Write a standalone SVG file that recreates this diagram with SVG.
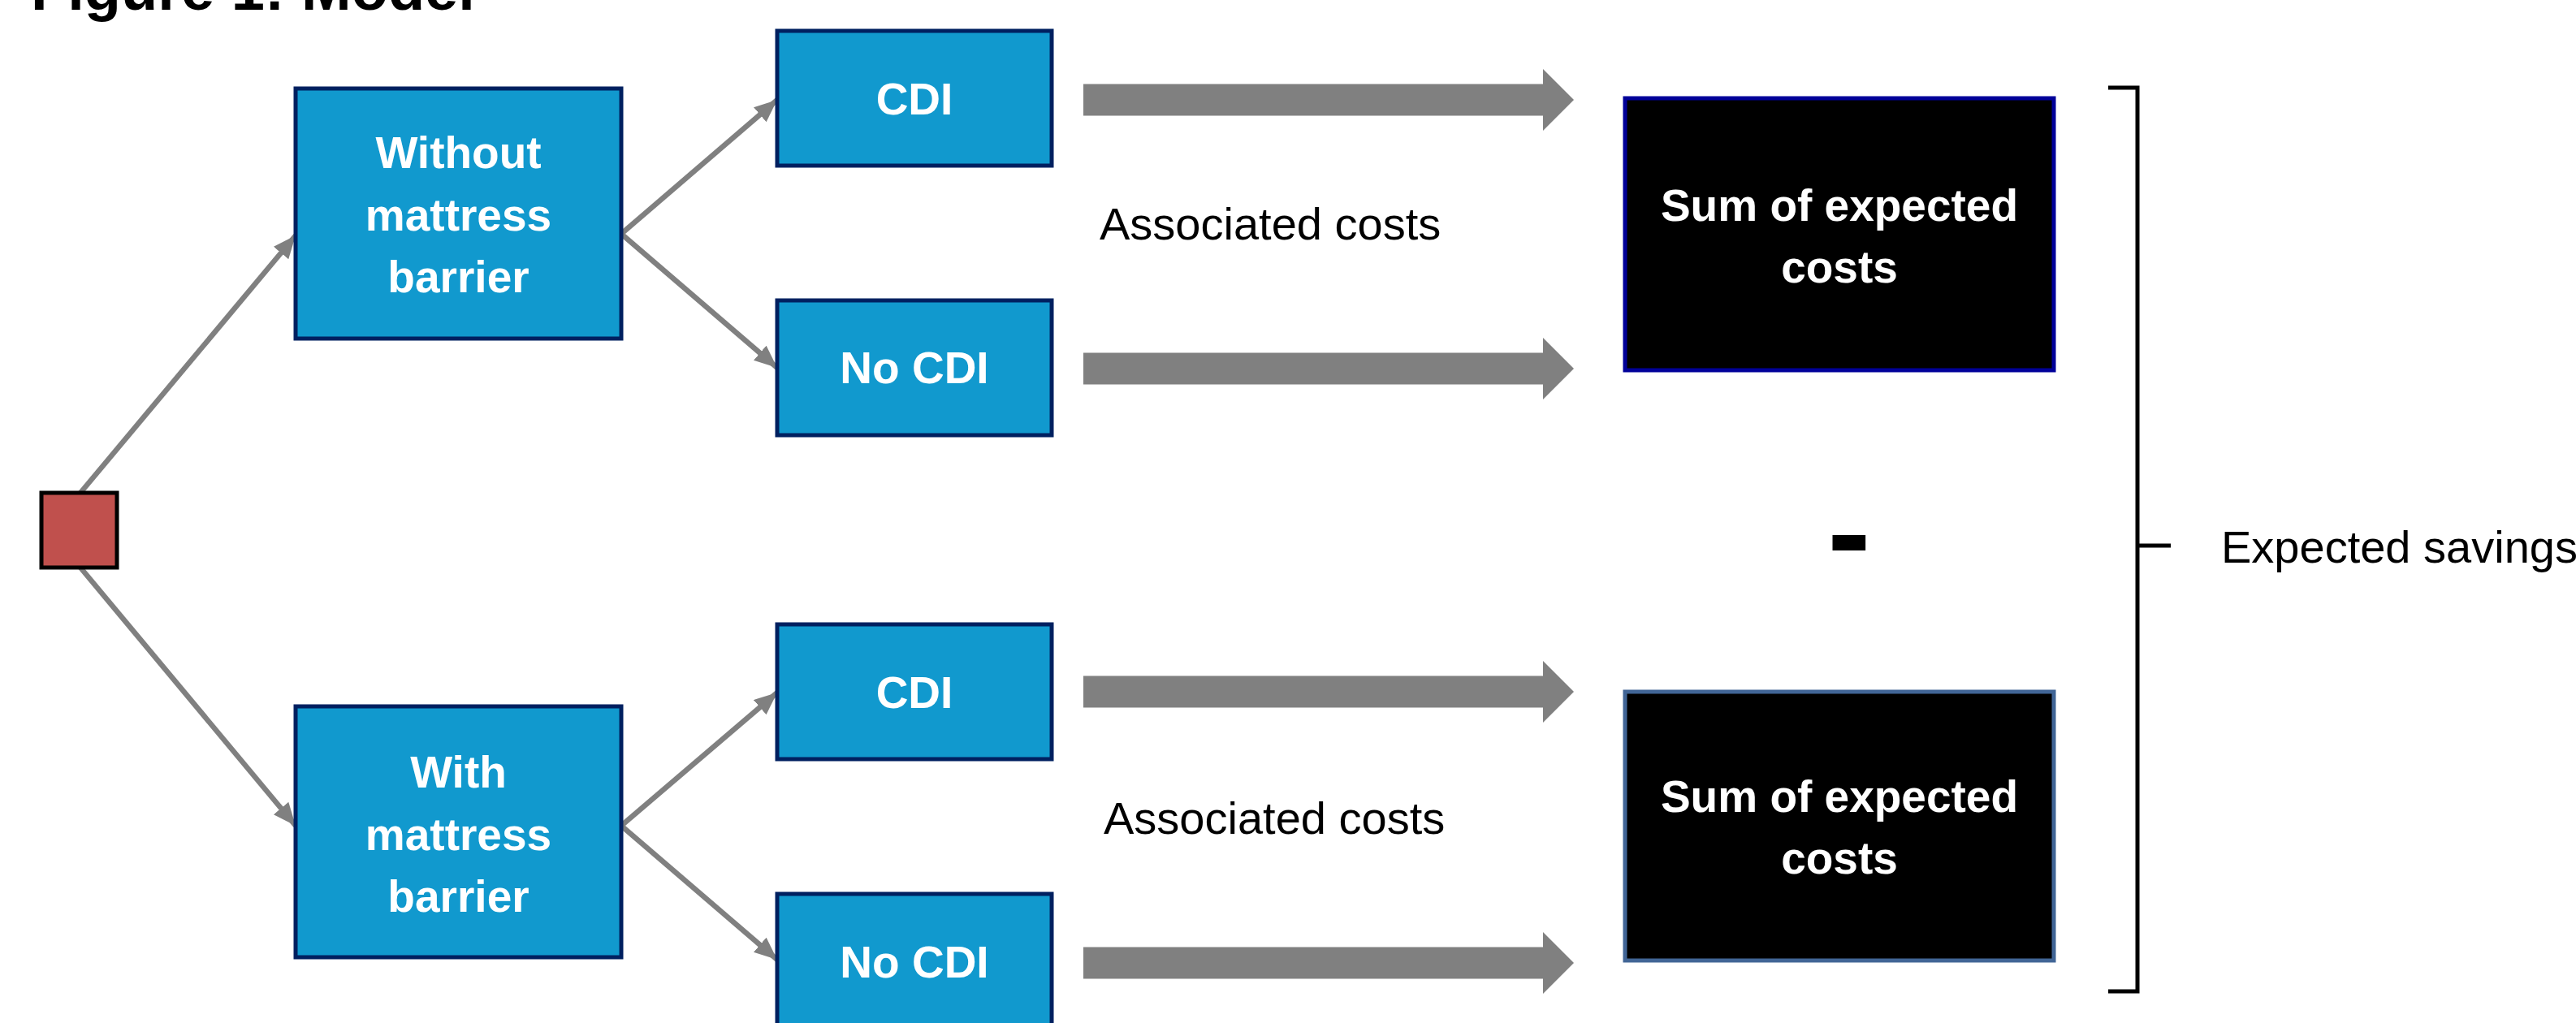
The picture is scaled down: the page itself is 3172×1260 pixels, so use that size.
<svg xmlns="http://www.w3.org/2000/svg" width="3172" height="1260" viewBox="0 0 3172 1260">
<style>
.blue{fill:#1199CE;stroke:#002060;stroke-width:5}
.blk1{fill:#000;stroke:#000099;stroke-width:5}
.blk2{fill:#000;stroke:#416596;stroke-width:5}
.wt{font-family:"Liberation Sans",Arial,sans-serif;font-weight:bold;font-size:55px;fill:#fff;text-anchor:middle}
.lbl{font-family:"Liberation Sans",Arial,sans-serif;font-size:56px;fill:#000}
.conn{stroke:#808080;stroke-width:6.5;fill:none;marker-end:url(#ah)}
.blockarrow{fill:#808080}
</style>
<defs>
<marker id="ah" markerUnits="userSpaceOnUse" markerWidth="32" markerHeight="28" refX="28" refY="12" orient="auto">
<path d="M0,0 L28,12 L0,24 Z" fill="#808080"/>
</marker>
</defs>
<rect width="3172" height="1260" fill="#fff"/>
<text x="38" y="12" font-family="Liberation Sans,Arial,sans-serif" font-weight="bold" font-size="74" fill="#000">Figure 1: Model</text>

<g id="connectors">
<path class="conn" d="M99,607 L364,290"/>
<path class="conn" d="M99,699 L364,1017"/>
<path class="conn" d="M765,288 L957,123"/>
<path class="conn" d="M765,288 L957,453"/>
<path class="conn" d="M765,1017 L957,853"/>
<path class="conn" d="M765,1017 L957,1182"/>
<polygon class="blockarrow" points="1334,103.5 1900,103.5 1900,85 1938,123 1900,161 1900,142.5 1334,142.5"/>
<polygon class="blockarrow" points="1334,434.5 1900,434.5 1900,416 1938,454 1900,492 1900,473.5 1334,473.5"/>
<polygon class="blockarrow" points="1334,832.5 1900,832.5 1900,814 1938,852 1900,890 1900,871.5 1334,871.5"/>
<polygon class="blockarrow" points="1334,1166.5 1900,1166.5 1900,1148 1938,1186 1900,1224 1900,1205.5 1334,1205.5"/>
</g>

<g id="root">
<rect x="51" y="607" width="93" height="92" fill="#C0504D" stroke="#000" stroke-width="5"/>
</g>

<g id="without">
<rect class="blue" x="364" y="109" width="401" height="308"/>
<text class="wt" x="564.5" y="207">Without</text>
<text class="wt" x="564.5" y="284">mattress</text>
<text class="wt" x="564.5" y="360">barrier</text>
</g>

<g id="with">
<rect class="blue" x="364" y="870" width="401" height="309"/>
<text class="wt" x="564.5" y="970">With</text>
<text class="wt" x="564.5" y="1047">mattress</text>
<text class="wt" x="564.5" y="1123">barrier</text>
</g>

<g id="cdi1">
<rect class="blue" x="957" y="38" width="338" height="166"/>
<text class="wt" x="1126" y="141">CDI</text>
</g>
<g id="nocdi1">
<rect class="blue" x="957" y="370" width="338" height="166"/>
<text class="wt" x="1126" y="472">No CDI</text>
</g>
<g id="cdi2">
<rect class="blue" x="957" y="769" width="338" height="166"/>
<text class="wt" x="1126" y="872">CDI</text>
</g>
<g id="nocdi2">
<rect class="blue" x="957" y="1101" width="338" height="170"/>
<text class="wt" x="1126" y="1204">No CDI</text>
</g>

<g id="assoc1"><text class="lbl" x="1354" y="295">Associated costs</text></g>
<g id="assoc2"><text class="lbl" x="1359" y="1027">Associated costs</text></g>

<g id="sum1">
<rect class="blk1" x="2001" y="121" width="528" height="335"/>
<text class="wt" x="2265" y="272">Sum of expected</text>
<text class="wt" x="2265" y="348">costs</text>
</g>
<g id="sum2">
<rect class="blk2" x="2001" y="852" width="528" height="331"/>
<text class="wt" x="2265" y="1000">Sum of expected</text>
<text class="wt" x="2265" y="1076">costs</text>
</g>

<g id="minus">
<text x="2277" y="710" font-family="Liberation Sans,Arial,sans-serif" font-weight="bold" font-size="160" fill="#000" text-anchor="middle">-</text>
</g>

<g id="bracket">
<path d="M2596,108 H2632 V1221 H2596 M2632,672 H2673" fill="none" stroke="#000" stroke-width="5"/>
<text class="lbl" x="2735" y="693" font-size="55">Expected savings</text>
</g>
</svg>
